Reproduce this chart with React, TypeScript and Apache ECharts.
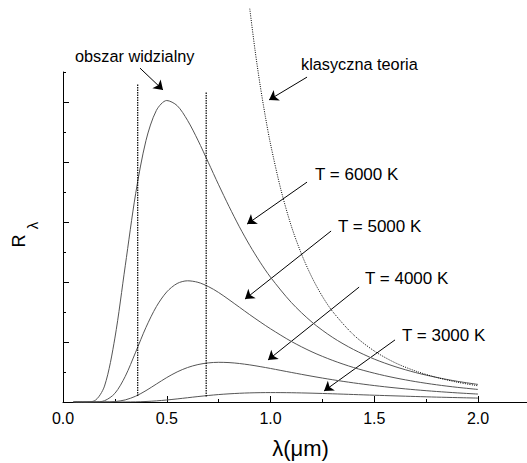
import React, { useEffect, useRef } from 'react';
import * as echarts from 'echarts';

const FONT = '"Liberation Sans", Arial, sans-serif';

// wavelength samples (µm) for the Planck curves
const lambda = [
  0.05, 0.1, 0.15, 0.2, 0.25, 0.3, 0.35, 0.4, 0.45, 0.5, 0.55, 0.6, 0.65, 0.7, 0.75,
  0.8, 0.85, 0.9, 0.95, 1.0, 1.1, 1.2, 1.3, 1.4, 1.5, 1.6, 1.7, 1.8, 1.9, 2.0,
];
const r6000 = [
  0, 0, 0.034, 0.53, 2.13, 4.54, 6.94, 8.72, 9.72, 10.05, 9.88, 9.39, 8.73, 7.99, 7.24,
  6.52, 5.84, 5.22, 4.66, 4.16, 3.32, 2.66, 2.15, 1.75, 1.43, 1.18, 0.98, 0.82, 0.69, 0.585,
];
const r5000 = [
  0, 0, 0.001, 0.043, 0.287, 0.855, 1.66, 2.49, 3.18, 3.67, 3.95, 4.04, 3.99, 3.85, 3.65,
  3.41, 3.16, 2.91, 2.67, 2.44, 2.02, 1.67, 1.385, 1.15, 0.96, 0.805, 0.678, 0.574, 0.489, 0.418,
];
const r4000 = [
  0, 0, 0, 0.001, 0.014, 0.07, 0.193, 0.38, 0.598, 0.815, 1.003, 1.148, 1.247, 1.303, 1.323,
  1.314, 1.283, 1.237, 1.18, 1.118, 0.986, 0.858, 0.741, 0.638, 0.548, 0.471, 0.406, 0.351, 0.304, 0.264,
];
const r3000 = [
  0, 0, 0, 0, 0, 0.001, 0.005, 0.017, 0.037, 0.067, 0.103, 0.142, 0.181, 0.217, 0.248,
  0.272, 0.291, 0.304, 0.311, 0.314, 0.309, 0.294, 0.273, 0.25, 0.226, 0.204, 0.183, 0.163, 0.146, 0.13,
];

// classical (Rayleigh-Jeans) curve
const lambdaClassic = [0.9, 0.925, 0.95, 0.975, 1.0, 1.05, 1.1, 1.15, 1.2, 1.25, 1.3, 1.4, 1.5, 1.6, 1.7, 1.8, 1.9, 2.0];
const rClassic = [13.11, 11.75, 10.56, 9.52, 8.6, 7.08, 5.87, 4.92, 4.15, 3.52, 3.01, 2.24, 1.7, 1.31, 1.03, 0.82, 0.66, 0.54];

// visible range boundaries
const visibleEdges = [0.36, 0.69];
const visibleTop = [10.6, 10.35];
const visibleBottom = [0.2, 0.18];

const xMajorTicks = [0, 0.5, 1, 1.5, 2];
const xMinorTicks = [0.25, 0.75, 1.25, 1.75];
const yMajorTicks = [0, 2, 4, 6, 8, 10];

const curveNames = ['T = 6000 K', 'T = 5000 K', 'T = 4000 K', 'T = 3000 K'];
const curveValues = [r6000, r5000, r4000, r3000];

// annotation layout (data coordinates for arrows, pixels for labels)
const arrows = [
  [[0.371, 11.13], [0.482, 10.4]],
  [[1.176, 10.83], [0.993, 10.07]],
  [[1.176, 7.33], [0.887, 5.93]],
  [[1.292, 5.7], [0.877, 3.43]],
  [[1.427, 3.83], [0.988, 1.4]],
  [[1.6, 2.07], [1.258, 0.367]],
];
const labelTexts = ['obszar widzialny', 'klasyczna teoria', ...curveNames];
const labelPos = [
  [75, 56],
  [301, 64],
  [315, 174.5],
  [338, 226.7],
  [365, 278.3],
  [402, 335],
];
const labelSize = [16.3, 16.3, 17, 17, 17, 17];

export default function App() {
  const ref = useRef<HTMLDivElement>(null);
  useEffect(() => {
    if (!ref.current) return;
    const chart = echarts.init(ref.current, null, { renderer: 'svg' });
    const curveSeries = curveValues.map((vals, k) => ({
      type: 'line',
      name: curveNames[k],
      data: lambda.map((l, i) => [l, vals[i]]),
      showSymbol: false,
      symbol: 'none',
      smooth: 0.3,
      lineStyle: { color: '#555', width: 1 },
      xAxisIndex: 0,
      yAxisIndex: 0,
    }));
    const option: any = {
      animation: false,
      grid: { left: 63, right: 0, top: 72, bottom: 61, containLabel: false },
      xAxis: [
        {
          type: 'value',
          min: 0,
          max: 2.236,
          interval: 0.5,
          axisLine: { lineStyle: { color: '#000', width: 1 } },
          axisTick: { inside: true, length: 6, customValues: xMajorTicks, lineStyle: { color: '#000' } },
          axisLabel: {
            customValues: xMajorTicks,
            formatter: (v: number) => v.toFixed(1),
            fontSize: 16,
            fontFamily: FONT,
            color: '#000',
            margin: 8,
          },
          splitLine: { show: false },
        },
        {
          type: 'value',
          min: 0,
          max: 2.236,
          position: 'bottom',
          axisLine: { show: false },
          axisTick: { inside: true, length: 3, customValues: xMinorTicks, lineStyle: { color: '#000' } },
          axisLabel: { show: false },
          splitLine: { show: false },
        },
      ],
      yAxis: [
        {
          type: 'value',
          min: 0,
          max: 11,
          interval: 1,
          axisLine: { show: true, lineStyle: { color: '#000', width: 1 } },
          axisTick: { show: true, inside: true, length: 3, lineStyle: { color: '#000' } },
          axisLabel: { show: false },
          splitLine: { show: false },
        },
        {
          type: 'value',
          min: 0,
          max: 11,
          position: 'left',
          axisLine: { show: false },
          axisTick: { show: true, inside: true, length: 6, customValues: yMajorTicks, lineStyle: { color: '#000' } },
          axisLabel: { show: false },
          splitLine: { show: false },
        },
      ],
      series: [
        ...curveSeries,
        {
          type: 'line',
          name: 'klasyczna teoria',
          data: lambdaClassic.map((l, i) => [l, rClassic[i]]),
          showSymbol: false,
          symbol: 'none',
          smooth: 0.3,
          clip: false,
          lineStyle: { color: '#000', width: 1, type: [1, 1.3] },
        },
        ...visibleEdges.map((x, i) => ({
          type: 'line',
          data: [[x, visibleBottom[i]], [x, visibleTop[i]]],
          showSymbol: false,
          symbol: 'none',
          clip: false,
          lineStyle: { color: '#000', width: 1.2, type: [1.5, 1] },
        })),
        {
          type: 'lines',
          coordinateSystem: 'cartesian2d',
          clip: false,
          symbol: ['none', 'arrow'],
          symbolSize: 9,
          lineStyle: { color: '#000', width: 1, opacity: 1, curveness: 0 },
          data: arrows.map((c) => ({ coords: c })),
        },
      ],
      graphic: [
        ...labelTexts.map((t, i) => ({
          type: 'text',
          x: labelPos[i][0],
          y: labelPos[i][1],
          style: {
            text: t,
            fill: '#000',
            font: `${labelSize[i]}px ${FONT}`,
            textAlign: 'left',
            textVerticalAlign: 'middle',
          },
        })),
        {
          type: 'text',
          x: 300.5,
          y: 448,
          style: {
            text: 'λ(μm)',
            fill: '#000',
            font: `22px ${FONT}`,
            textAlign: 'center',
            textVerticalAlign: 'middle',
          },
        },
        {
          type: 'text',
          x: 19,
          y: 241,
          rotation: Math.PI / 2,
          style: {
            text: 'R',
            fill: '#000',
            font: `18px ${FONT}`,
            textAlign: 'center',
            textVerticalAlign: 'middle',
          },
        },
        {
          type: 'text',
          x: 32.5,
          y: 225.5,
          rotation: Math.PI / 2,
          style: {
            text: 'λ',
            fill: '#000',
            font: `15px ${FONT}`,
            textAlign: 'center',
            textVerticalAlign: 'middle',
          },
        },
      ],
    };
    chart.setOption(option);
    return () => chart.dispose();
  }, []);
  return (
    <div
      ref={ref}
      style={{ position: 'fixed', left: 0, top: 0, width: 527, height: 463, background: '#fff' }}
    />
  );
}
